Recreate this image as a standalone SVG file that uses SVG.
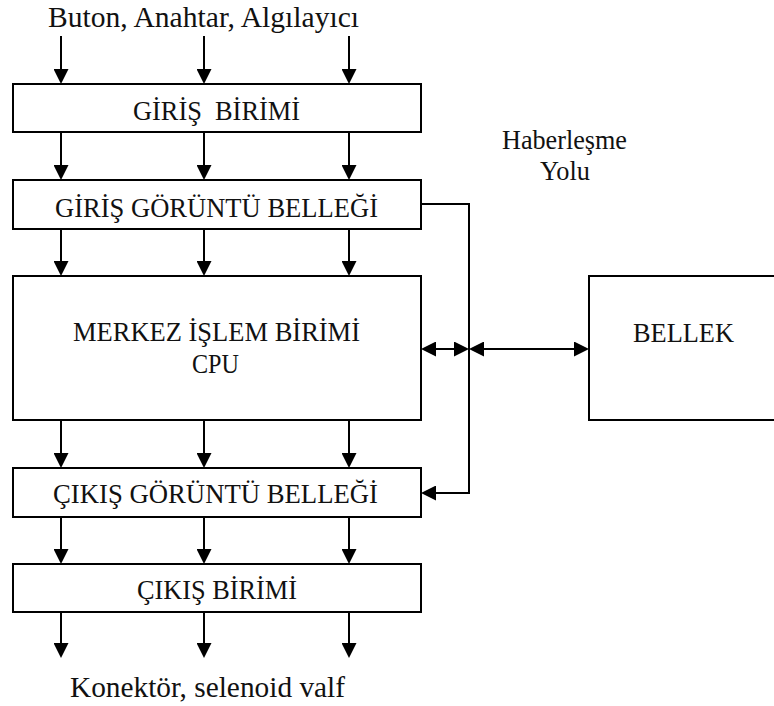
<svg xmlns="http://www.w3.org/2000/svg" width="774" height="706" viewBox="0 0 774 706">
<style>
.box{fill:#fff;stroke:#000;stroke-width:2}
.lbl{font-family:'Liberation Serif',Tinos,'Times New Roman',Times,'Nimbus Roman','Nimbus Roman No9 L','Noto Serif','DejaVu Serif',FreeSerif,Georgia,serif;font-size:26.5px;fill:#111;text-anchor:middle;white-space:pre}
.big{font-size:29px}
.ln{fill:none;stroke:#000;stroke-width:2}
</style>
<defs>
<marker id="ah" viewBox="0 0 15 15" refX="10" refY="7.5" markerWidth="15" markerHeight="15" markerUnits="userSpaceOnUse" orient="auto-start-reverse">
<path d="M0,0 L15,7.5 L0,15 z" fill="#000"/>
</marker>
</defs>
<rect width="774" height="706" fill="#fff"/>
<text class="lbl big" x="203.5" y="27" textLength="311" lengthAdjust="spacingAndGlyphs">Buton, Anahtar, Algılayıcı</text>
<text class="lbl" x="564.5" y="149" textLength="125" lengthAdjust="spacingAndGlyphs">Haberleşme</text>
<text class="lbl" x="565" y="180" textLength="50" lengthAdjust="spacingAndGlyphs">Yolu</text>
<text class="lbl big" x="207.5" y="697" textLength="275" lengthAdjust="spacingAndGlyphs">Konektör, selenoid valf</text>
<g id="connectors">
<g class="ln" marker-end="url(#ah)">
<line x1="61" y1="36" x2="61" y2="79"/><line x1="204" y1="36" x2="204" y2="79"/><line x1="349" y1="36" x2="349" y2="79"/>
<line x1="61" y1="132" x2="61" y2="175"/><line x1="204" y1="132" x2="204" y2="175"/><line x1="349" y1="132" x2="349" y2="175"/>
<line x1="61" y1="229" x2="61" y2="271"/><line x1="204" y1="229" x2="204" y2="271"/><line x1="349" y1="229" x2="349" y2="271"/>
<line x1="61" y1="420" x2="61" y2="463"/><line x1="204" y1="420" x2="204" y2="463"/><line x1="349" y1="420" x2="349" y2="463"/>
<line x1="61" y1="517" x2="61" y2="559"/><line x1="204" y1="517" x2="204" y2="559"/><line x1="349" y1="517" x2="349" y2="559"/>
<line x1="61" y1="612" x2="61" y2="653"/><line x1="204" y1="612" x2="204" y2="653"/><line x1="349" y1="612" x2="349" y2="653"/>
<path d="M421,204 H469 V493 H426"/>
</g>
<line class="ln" x1="426" y1="349" x2="464" y2="349" marker-start="url(#ah)" marker-end="url(#ah)"/>
<line class="ln" x1="474" y1="349" x2="584" y2="349" marker-start="url(#ah)" marker-end="url(#ah)"/>
</g>
<g id="giris-birimi"><rect class="box" x="13" y="84" width="408" height="48"/><text class="lbl" x="216.5" y="120" textLength="167" lengthAdjust="spacingAndGlyphs">GİRİŞ  BİRİMİ</text></g>
<g id="giris-goruntu"><rect class="box" x="13" y="180" width="408" height="49"/><text class="lbl" x="216.5" y="217" textLength="323" lengthAdjust="spacingAndGlyphs">GİRİŞ GÖRÜNTÜ BELLEĞİ</text></g>
<g id="cpu"><rect class="box" x="13" y="276" width="408" height="144"/><text class="lbl" x="216.5" y="341" textLength="287" lengthAdjust="spacingAndGlyphs">MERKEZ İŞLEM BİRİMİ</text><text class="lbl" x="215.5" y="373" textLength="47" lengthAdjust="spacingAndGlyphs">CPU</text></g>
<g id="cikis-goruntu"><rect class="box" x="13" y="468" width="408" height="49"/><text class="lbl" x="215.5" y="503" textLength="325" lengthAdjust="spacingAndGlyphs">ÇIKIŞ GÖRÜNTÜ BELLEĞİ</text></g>
<g id="cikis-birimi"><rect class="box" x="13" y="564" width="408" height="48"/><text class="lbl" x="217" y="599" textLength="160" lengthAdjust="spacingAndGlyphs">ÇIKIŞ BİRİMİ</text></g>
<g id="bellek"><rect class="box" x="589" y="276" width="200" height="144"/><text class="lbl" x="683.5" y="342" textLength="101" lengthAdjust="spacingAndGlyphs">BELLEK</text></g>
</svg>
